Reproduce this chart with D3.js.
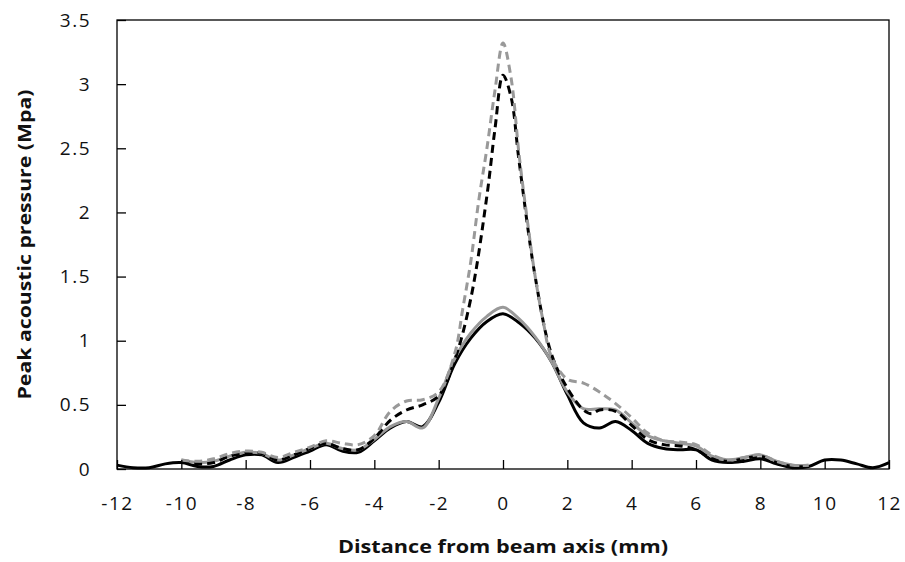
<!DOCTYPE html>
<html>
<head>
<meta charset="utf-8">
<script src="https://cdn.jsdelivr.net/npm/d3@7"></script>
<style>
  body { margin: 0; background: #fff; }
  text { font-family: 'Open Sans', sans-serif; fill: #111; }
</style>
</head>
<body>
<div id="chart"></div>
<script>
// tick values
const xTicks = [-12, -10, -8, -6, -4, -2, 0, 2, 4, 6, 8, 10, 12]
const yTicks = [0, 0.5, 1, 1.5, 2, 2.5, 3, 3.5]

// black solid
const blackSolidX = [-12, -11.5, -11, -10.5, -10, -9.5, -9, -8.5, -8, -7.5, -7, -6.5, -6, -5.5, -5, -4.5, -4, -3.5, -3, -2.5, -2, -1.5, -1, -0.5, 0, 0.5, 1, 1.5, 2, 2.5, 3, 3.5, 4, 4.5, 5, 5.5, 6, 6.5, 7, 7.5, 8, 8.5, 9, 9.5, 10, 10.5, 11, 11.5, 12]
const blackSolidY = [0.03, 0.01, 0.01, 0.04, 0.05, 0.02, 0.02, 0.07, 0.11, 0.11, 0.05, 0.09, 0.14, 0.19, 0.14, 0.13, 0.22, 0.32, 0.37, 0.33, 0.52, 0.82, 1.02, 1.15, 1.21, 1.14, 1.02, 0.84, 0.58, 0.36, 0.32, 0.37, 0.3, 0.2, 0.16, 0.15, 0.15, 0.07, 0.05, 0.06, 0.08, 0.04, 0.01, 0.02, 0.07, 0.07, 0.04, 0.01, 0.05]

// grey solid
const greySolidX = [-10, -9.5, -9, -8.5, -8, -7.5, -7, -6.5, -6, -5.5, -5, -4.5, -4, -3.5, -3, -2.5, -2, -1.5, -1, -0.5, 0, 0.5, 1, 1.5, 2, 2.5, 3, 3.5, 4, 4.5, 5, 5.5, 6, 6.5, 7, 7.5, 8, 8.5, 9, 9.5]
const greySolidY = [0.07, 0.05, 0.06, 0.1, 0.13, 0.12, 0.07, 0.11, 0.16, 0.2, 0.16, 0.15, 0.23, 0.33, 0.37, 0.32, 0.55, 0.86, 1.06, 1.19, 1.26, 1.17, 1.03, 0.84, 0.6, 0.47, 0.47, 0.46, 0.36, 0.26, 0.22, 0.2, 0.18, 0.1, 0.07, 0.09, 0.11, 0.06, 0.03, 0.03]

// black dashed
const blackDashX = [-10, -9.5, -9, -8.5, -8, -7.5, -7, -6.5, -6, -5.5, -5, -4.5, -4, -3.5, -3, -2.5, -2, -1.5, -1, -0.5, -0.25, 0, 0.25, 0.5, 1, 1.5, 2, 2.5, 2.75, 3, 3.5, 4, 4.5, 5, 5.5, 6, 6.5, 7, 7.5, 8, 8.5, 9, 9.5]
const blackDashY = [0.06, 0.04, 0.05, 0.1, 0.12, 0.12, 0.07, 0.11, 0.16, 0.2, 0.16, 0.15, 0.24, 0.38, 0.46, 0.5, 0.57, 0.85, 1.33, 2.13, 2.65, 3.07, 2.9, 2.4, 1.5, 0.9, 0.63, 0.46, 0.43, 0.46, 0.45, 0.34, 0.23, 0.19, 0.18, 0.15, 0.08, 0.06, 0.08, 0.1, 0.05, 0.02, 0.02]

// grey dashed
const greyDashX = [-10, -9.5, -9, -8.5, -8, -7.5, -7, -6.5, -6, -5.5, -5, -4.5, -4, -3.5, -3, -2.5, -2, -1.5, -1.25, -1, -0.75, -0.5, -0.25, 0, 0.25, 0.5, 0.75, 1, 1.25, 1.5, 2, 2.5, 3, 3.5, 4, 4.5, 5, 5.5, 6, 6.5, 7, 7.5, 8, 8.5, 9, 9.5]
const greyDashY = [0.07, 0.06, 0.08, 0.12, 0.14, 0.13, 0.09, 0.13, 0.17, 0.22, 0.2, 0.19, 0.26, 0.45, 0.53, 0.54, 0.6, 0.9, 1.25, 1.62, 2.1, 2.5, 2.95, 3.32, 3.05, 2.45, 1.95, 1.5, 1.15, 0.88, 0.7, 0.67, 0.6, 0.51, 0.4, 0.28, 0.22, 0.21, 0.19, 0.11, 0.07, 0.09, 0.11, 0.06, 0.03, 0.03]

const margin = { top: 20, right: 16, bottom: 93, left: 117 }
const width = 905 - margin.left - margin.right
const height = 562 - margin.top - margin.bottom

const svg = d3
  .select('#chart')
  .append('svg')
  .attr('width', 905)
  .attr('height', 562)
  .append('g')
  .attr('transform', 'translate(' + margin.left + ',' + margin.top + ')')

const xPositionScale = d3.scaleLinear().domain([-12, 12]).range([0, width])
const yPositionScale = d3.scaleLinear().domain([0, 3.5]).range([height, 0])

const line = d3
  .line()
  .x(d => xPositionScale(d[0]))
  .y(d => yPositionScale(d[1]))
  .curve(d3.curveCatmullRom.alpha(0.5))

const series = [
  { xs: blackSolidX, ys: blackSolidY, color: '#000', dash: null },
  { xs: greySolidX, ys: greySolidY, color: '#999', dash: null },
  { xs: blackDashX, ys: blackDashY, color: '#000', dash: '8,5' },
  { xs: greyDashX, ys: greyDashY, color: '#999', dash: '8,5' }
]

series.forEach(s => {
  const pts = s.xs.map((x, i) => [x, s.ys[i]])
  svg
    .append('path')
    .datum(pts)
    .attr('d', line)
    .attr('fill', 'none')
    .attr('stroke', s.color)
    .attr('stroke-width', 3)
    .attr('stroke-dasharray', s.dash)
})

// frame
svg
  .append('rect')
  .attr('width', width)
  .attr('height', height)
  .attr('fill', 'none')
  .attr('stroke', '#000')
  .attr('stroke-width', 1.3)

// axes with inward ticks, plain labels ("-12", "0.5", "1")
const fmt = d => String(d)

const xAxis = d3.axisBottom(xPositionScale).tickValues(xTicks).tickFormat(fmt).tickSize(-9).tickPadding(28)
svg
  .append('g')
  .attr('transform', 'translate(0,' + height + ')')
  .call(xAxis)
  .call(g => g.select('.domain').remove())
  .call(g => g.selectAll('line').attr('stroke', '#000').attr('stroke-width', 1.3))
  .call(g => g.selectAll('text').attr('font-size', 19).attr('letter-spacing', 1.5).attr('font-family', null))

const yAxis = d3.axisLeft(yPositionScale).tickValues(yTicks).tickFormat(fmt).tickSize(-9).tickPadding(26)
svg
  .append('g')
  .call(yAxis)
  .call(g => g.select('.domain').remove())
  .call(g => g.selectAll('line').attr('stroke', '#000').attr('stroke-width', 1.3))
  .call(g => g.selectAll('text').attr('font-size', 19).attr('letter-spacing', 1.5).attr('font-family', null))

svg
  .append('text')
  .attr('x', width / 2)
  .attr('y', height + 84)
  .attr('text-anchor', 'middle')
  .attr('font-size', 18)
  .attr('font-weight', 'bold')
  .attr('textLength', 330)
  .attr('lengthAdjust', 'spacingAndGlyphs')
  .text('Distance from beam axis (mm)')

svg
  .append('text')
  .attr('transform', 'translate(-86,' + height / 2 + ') rotate(-90)')
  .attr('text-anchor', 'middle')
  .attr('font-size', 18)
  .attr('font-weight', 'bold')
  .attr('textLength', 310)
  .attr('lengthAdjust', 'spacingAndGlyphs')
  .text('Peak acoustic pressure (Mpa)')
</script>
</body>
</html>
